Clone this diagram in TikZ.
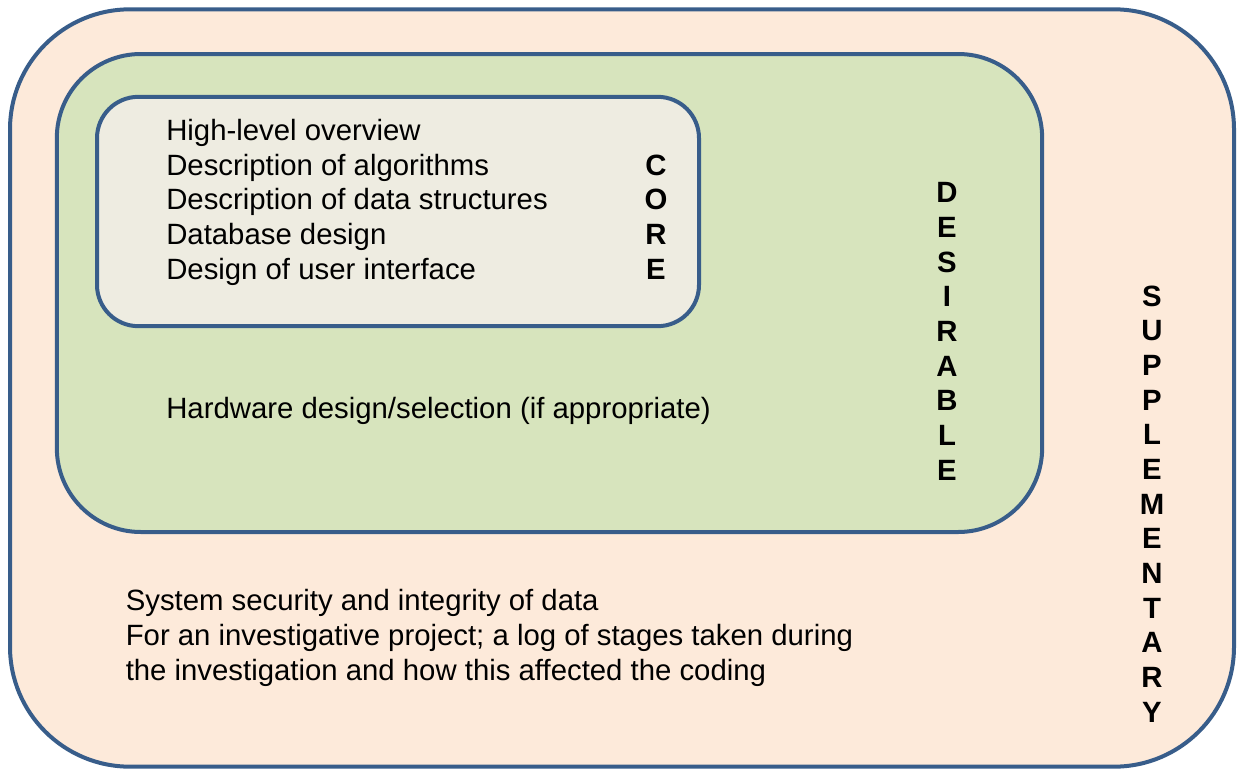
\documentclass[tikz,border=0pt]{standalone}
\usepackage{fontspec}
\setmainfont{Liberation Sans}
\definecolor{edgeblue}{HTML}{385D8A}
\definecolor{suppfill}{HTML}{FDEADA}
\definecolor{desfill}{HTML}{D7E4BD}
\definecolor{corefill}{HTML}{EEECE1}

\begin{document}
\begin{tikzpicture}[x=0.75pt, y=-0.75pt,
  zone/.style={draw=edgeblue, line width=3pt, inner sep=0pt},
  item/.style={anchor=base west, inner sep=0pt, align=left, font=\fontsize{22pt}{26pt}\selectfont},
  tag/.style={anchor=base, inner sep=0pt, align=center, font=\fontsize{22pt}{26pt}\selectfont\bfseries}]
\useasboundingbox (0,0) rectangle (1238,771);
% nested areas
\node  (supp)[zone, fill=suppfill, rounded corners=90pt, minimum width=918pt, minimum height=568pt]  at (622,388) {};
\node  (des)[zone, fill=desfill, rounded corners=63pt, minimum width=739pt, minimum height=358.5pt]  at (549.5,293) {};
\node  (core)[zone, fill=corefill, rounded corners=31pt, minimum width=451.5pt, minimum height=172pt]  at (398,211.5) {};
% contents (placed at the baseline of the last line)
\node  (coreitems)[item]  at (166,279) {High-level overview\\Description of algorithms\\Description of data structures\\Database design\\Design of user interface};
\node  (desitems)[item]  at (166,418) {Hardware design/selection (if appropriate)};
\node  (suppitems)[item]  at (125.5,680) {System security and integrity of data\\For an investigative project; a log of stages taken during\\the investigation and how this affected the coding};
% side labels
\node  (coretag)[tag]  at (656,279) {C\\O\\R\\E};
\node  (destag)[tag]  at (947,480) {D\\E\\S\\I\\R\\A\\B\\L\\E};
\node  (supptag)[tag]  at (1152,722) {S\\U\\P\\P\\L\\E\\M\\E\\N\\T\\A\\R\\Y};
\end{tikzpicture}
\end{document}
